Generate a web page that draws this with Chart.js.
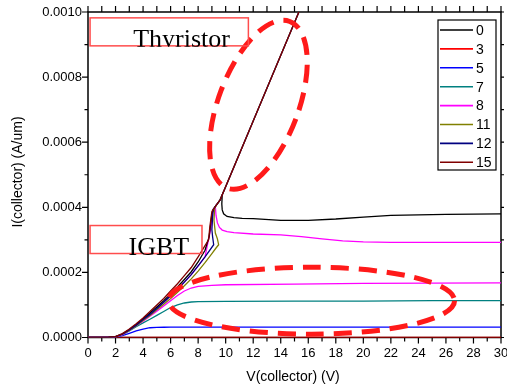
<!DOCTYPE html>
<html>
<head>
<meta charset="utf-8">
<script src="https://cdn.jsdelivr.net/npm/chart.js@4.4.0/dist/chart.umd.min.js"></script>
<style>
  body { margin: 0; background: #fff; }
  #iv-chart { display: block; }
</style>
</head>
<body>
<canvas id="iv-chart" width="507" height="390"></canvas>
<script>
// tick values for both axes
var xTicks = [0, 2, 4, 6, 8, 10, 12, 14, 16, 18, 20, 22, 24, 26, 28, 30];
var xMinor = [1, 3, 5, 7, 9, 11, 13, 15, 17, 19, 21, 23, 25, 27, 29];
var yTicks = [0, 0.0002, 0.0004, 0.0006, 0.0008, 0.0010];
var yMinor = [0.0001, 0.0003, 0.0005, 0.0007, 0.0009];

// V(collector) / I(collector) for each curve
var v0 = [0, 1, 1.5, 2, 2.5, 3, 3.5, 4, 4.5, 5, 5.5, 6, 6.5, 7, 7.5, 8, 8.5, 8.8, 9.0, 9.2, 9.6, 9.75, 9.72, 9.75, 9.85, 10.1, 10.6, 11.2, 12, 14, 16, 18, 20, 22, 26, 30];
var i0 = [0, 0.0000005, 0.000001, 0.000003, 0.000011, 0.000024, 0.00004, 0.000057, 0.000075, 0.000094, 0.000113, 0.000134, 0.000155, 0.000178, 0.000202, 0.000232, 0.000268, 0.00031, 0.00038, 0.0004, 0.000423, 0.000438, 0.00041, 0.000392, 0.00038, 0.000372, 0.000368, 0.000366, 0.000365, 0.00036, 0.00036, 0.000364, 0.00037, 0.000375, 0.000378, 0.00038];

var v3 = [0, 10, 20, 30];
var i3 = [0, 0, 0, 0];

var v5 = [0, 1, 1.5, 2, 2.5, 3, 3.5, 4, 4.5, 5, 5.5, 6, 8, 10, 15, 20, 25, 30];
var i5 = [0, 0.0000003, 0.000001, 0.000002, 0.000006, 0.000013, 0.00002, 0.000026, 0.00003, 0.000031, 0.0000315, 0.000032, 0.000032, 0.000032, 0.000032, 0.000032, 0.000032, 0.000032];

var v7 = [0, 1, 1.5, 2, 2.5, 3, 3.5, 4, 4.5, 5, 5.5, 6, 6.5, 7, 7.5, 8, 10, 15, 20, 25, 30];
var i7 = [0, 0.0000003, 0.000001, 0.000002, 0.000008, 0.00002, 0.000033, 0.000045, 0.000056, 0.000068, 0.00008, 0.000092, 0.0001, 0.000106, 0.000109, 0.00011, 0.000111, 0.000112, 0.000112, 0.000113, 0.000113];

var v8 = [0, 1, 1.5, 2, 2.5, 3, 3.5, 4, 4.5, 5, 5.5, 6, 6.5, 7, 7.5, 8, 9, 10, 15, 20, 25, 30];
var i8 = [0, 0.0000003, 0.000001, 0.000002, 0.000009, 0.000022, 0.000036, 0.00005, 0.000065, 0.000081, 0.000097, 0.000113, 0.000129, 0.000143, 0.000152, 0.000157, 0.00016, 0.000162, 0.000164, 0.000166, 0.000167, 0.000168];

// second magenta curve (not in the legend)
var v8b = [0, 1, 1.5, 2, 2.5, 3, 3.5, 4, 4.5, 5, 5.5, 6, 6.5, 7, 7.5, 8, 8.5, 8.9, 9.1, 9.25, 9.3, 9.4, 9.55, 9.75, 10.1, 10.6, 12, 14, 15.5, 17, 18.5, 20, 22, 25, 30];
var i8b = [0, 0.0000004, 0.000001, 0.000003, 0.00001, 0.000023, 0.000038, 0.000055, 0.000071, 0.000089, 0.000108, 0.000128, 0.000148, 0.00017, 0.000193, 0.00022, 0.000248, 0.00033, 0.00039, 0.000402, 0.000375, 0.000352, 0.000338, 0.00033, 0.000325, 0.000322, 0.000318, 0.000315, 0.00031, 0.000303, 0.000297, 0.000294, 0.000292, 0.000292, 0.000292];

var v11 = [0, 1, 1.5, 2, 2.5, 3, 3.5, 4, 4.5, 5, 5.5, 6, 6.5, 7, 7.5, 8, 8.5, 9, 9.3, 9.49, 9.4, 9.25, 9.15, 9.2, 9.6, 12, 15.32];
var i11 = [0, 0.0000004, 0.000001, 0.000003, 0.00001, 0.000022, 0.000036, 0.000052, 0.000068, 0.000085, 0.000102, 0.00012, 0.000139, 0.000159, 0.00018, 0.000204, 0.00023, 0.000258, 0.000275, 0.000285, 0.000303, 0.000321, 0.00036, 0.000398, 0.000423, 0.000665, 0.001];

var v12 = [0, 1, 1.5, 2, 2.5, 3, 3.5, 4, 4.5, 5, 5.5, 6, 6.5, 7, 7.5, 8, 8.5, 9.13, 9.05, 9.0, 9.08, 9.2, 9.6, 12, 15.32];
var i12 = [0, 0.0000004, 0.000001, 0.000003, 0.00001, 0.000023, 0.000038, 0.000055, 0.000071, 0.000089, 0.000108, 0.000128, 0.000148, 0.00017, 0.000193, 0.00022, 0.000248, 0.000285, 0.00031, 0.000331, 0.000393, 0.0004, 0.000423, 0.000665, 0.001];

var v15 = [0, 1, 1.5, 2, 2.5, 3, 3.5, 4, 4.5, 5, 5.5, 6, 6.5, 7, 7.5, 8, 8.5, 8.76, 8.85, 9.0, 9.2, 9.6, 12, 15.32];
var i15 = [0, 0.0000005, 0.000001, 0.000003, 0.000012, 0.000026, 0.000042, 0.00006, 0.00008, 0.0001, 0.00012, 0.000143, 0.000165, 0.00019, 0.000215, 0.000248, 0.000282, 0.0003, 0.00034, 0.000387, 0.0004, 0.000423, 0.000665, 0.001];

// legend entries
var legendLabels = ['0', '3', '5', '7', '8', '11', '12', '15'];
var legendColors = ['#000000', '#ff0000', '#0000ff', '#008080', '#ff00ff', '#808000', '#000080', '#800000'];

var sans = 'Arial, "Liberation Sans", sans-serif';
var serif = '"Times New Roman", "Liberation Serif", serif';

function toPoints(xs, ys) {
    var pts = [];
    for (var k = 0; k < xs.length; k++) {
        pts.push({x: xs[k], y: ys[k]});
    }
    return pts;
}

function series(label, color, xs, ys) {
    return {
        label: label,
        data: toPoints(xs, ys),
        showLine: true,
        borderColor: color,
        backgroundColor: color,
        borderWidth: 1.3,
        pointRadius: 0,
        fill: false
    };
}

// chart.js paints the first dataset last, so 15 goes first to sit on top
var datasets = [
    series('15', legendColors[7], v15, i15),
    series('12', legendColors[6], v12, i12),
    series('11', legendColors[5], v11, i11),
    series('0', legendColors[0], v0, i0),
    series('8b', legendColors[4], v8b, i8b),
    series('8', legendColors[4], v8, i8),
    series('7', legendColors[3], v7, i7),
    series('5', legendColors[2], v5, i5),
    series('3', legendColors[1], v3, i3)
];

// frame, tick marks and axis titles go under the curves
var framePlugin = {
    id: 'frame',
    beforeDatasetsDraw: function(chart) {
        var c = chart.ctx, a = chart.chartArea;
        var xs = chart.scales.x, ys = chart.scales.y;
        c.save();
        c.strokeStyle = '#000';
        c.lineWidth = 1.5;
        c.strokeRect(a.left, a.top, a.right - a.left, a.bottom - a.top);
        c.lineWidth = 1.2;
        c.beginPath();
        xTicks.concat(xMinor).forEach(function(v) {
            var px = xs.getPixelForValue(v);
            var len = xTicks.indexOf(v) >= 0 ? 6 : 4;
            c.moveTo(px, a.bottom); c.lineTo(px, a.bottom + len);
            c.moveTo(px, a.top); c.lineTo(px, a.top - 6);
        });
        yTicks.concat(yMinor).forEach(function(v) {
            var py = ys.getPixelForValue(v);
            var len = yMinor.indexOf(v) >= 0 ? 3.5 : 6;
            c.moveTo(a.left, py); c.lineTo(a.left - len, py);
            c.moveTo(a.right, py); c.lineTo(a.right + 3, py);
        });
        c.stroke();

        // axis titles
        c.fillStyle = '#000';
        c.font = '14px ' + sans;
        c.textAlign = 'center';
        c.textBaseline = 'alphabetic';
        c.fillText('V(collector) (V)', 293, 381);
        c.translate(21.5, 172);
        c.rotate(-Math.PI / 2);
        c.fillText('I(collector) (A/um)', 0, 0);
        c.restore();
    }
};

// red notes drawn on top of the data
var notes = {
    ellipses: [
        {v: 12.38, i: 0.000715, rx: 40, ry: 89, rot: 0.36},
        {v: 16.24, i: 0.000113, rx: 143, ry: 33.5, rot: 0}
    ],
    boxes: [
        {text: 'Thyristor', v1: 0.15, i1: 0.000982, v2: 11.65, i2: 0.000896, tv: 3.28, ti: 0.000892, clip: 1},
        {text: 'IGBT', v1: 0.15, i1: 0.000344, v2: 8.28, i2: 0.000258, tv: 2.94, ti: 0.000253, clip: 3}
    ]
};

var notesPlugin = {
    id: 'notes',
    afterDatasetsDraw: function(chart) {
        var c = chart.ctx;
        var xs = chart.scales.x, ys = chart.scales.y;
        c.save();
        c.strokeStyle = '#ff1a1a';
        c.lineWidth = 5;
        c.setLineDash([18, 10]);
        notes.ellipses.forEach(function(e) {
            c.beginPath();
            c.ellipse(xs.getPixelForValue(e.v), ys.getPixelForValue(e.i), e.rx, e.ry, e.rot, 0, Math.PI * 2);
            c.stroke();
        });
        c.setLineDash([]);

        notes.boxes.forEach(function(b) {
            var x1 = xs.getPixelForValue(b.v1), y1 = ys.getPixelForValue(b.i1);
            var x2 = xs.getPixelForValue(b.v2), y2 = ys.getPixelForValue(b.i2);
            c.strokeStyle = '#ff4d4d';
            c.lineWidth = 1.5;
            c.strokeRect(x1, y1, x2 - x1, y2 - y1);
            c.save();
            c.beginPath();
            c.rect(x1, y1, x2 - x1, y2 - y1 + b.clip);
            c.clip();
            c.fillStyle = '#000';
            c.font = '26px ' + serif;
            c.textAlign = 'left';
            c.textBaseline = 'alphabetic';
            c.fillText(b.text, xs.getPixelForValue(b.tv), ys.getPixelForValue(b.ti));
            c.restore();
        });

        // legend box
        var lx = 438, ly = 20, lw = 58, lh = 150, row = 18.9;
        c.fillStyle = '#fff';
        c.fillRect(lx, ly, lw, lh);
        c.strokeStyle = '#000';
        c.lineWidth = 1.2;
        c.strokeRect(lx, ly, lw, lh);
        c.font = '14px ' + sans;
        c.textAlign = 'left';
        c.textBaseline = 'middle';
        for (var k = 0; k < legendLabels.length; k++) {
            var y = ly + 10 + k * row;
            c.strokeStyle = legendColors[k];
            c.lineWidth = 1.6;
            c.beginPath();
            c.moveTo(lx + 2, y);
            c.lineTo(lx + 35, y);
            c.stroke();
            c.fillStyle = '#000';
            c.fillText(legendLabels[k], lx + 38, y + 1);
        }
        c.restore();
    }
};

var ctx = document.getElementById('iv-chart').getContext('2d');
var myChart = new Chart(ctx, {
    type: 'scatter',
    data: { datasets: datasets },
    options: {
        responsive: false,
        animation: false,
        devicePixelRatio: 1,
        layout: { padding: { top: 12, right: 6, left: 0, bottom: 0 } },
        plugins: {
            legend: { display: false },
            tooltip: { enabled: false }
        },
        scales: {
            x: {
                type: 'linear',
                min: 0,
                max: 30,
                grid: { display: false, drawTicks: false },
                border: { display: false },
                ticks: {
                    padding: 8,
                    color: '#000',
                    font: { family: sans, size: 13 },
                    maxRotation: 0,
                    autoSkip: false,
                    callback: function(v) { return String(v); }
                },
                afterBuildTicks: function(s) {
                    s.ticks = xTicks.map(function(v) { return {value: v}; });
                },
                afterFit: function(s) {
                    s.height = 52.5;
                    s.paddingLeft = 0;
                    s.paddingRight = 0;
                }
            },
            y: {
                type: 'linear',
                min: 0,
                max: 0.001,
                grid: { display: false, drawTicks: false },
                border: { display: false },
                ticks: {
                    padding: 6,
                    color: '#000',
                    font: { family: sans, size: 13 },
                    autoSkip: false,
                    callback: function(v) { return v.toFixed(4); }
                },
                afterBuildTicks: function(s) {
                    s.ticks = yTicks.map(function(v) { return {value: v}; });
                },
                afterFit: function(s) {
                    s.width = 88;
                    s.paddingTop = 0;
                    s.paddingBottom = 0;
                }
            }
        }
    },
    plugins: [framePlugin, notesPlugin]
});
</script>
</body>
</html>
